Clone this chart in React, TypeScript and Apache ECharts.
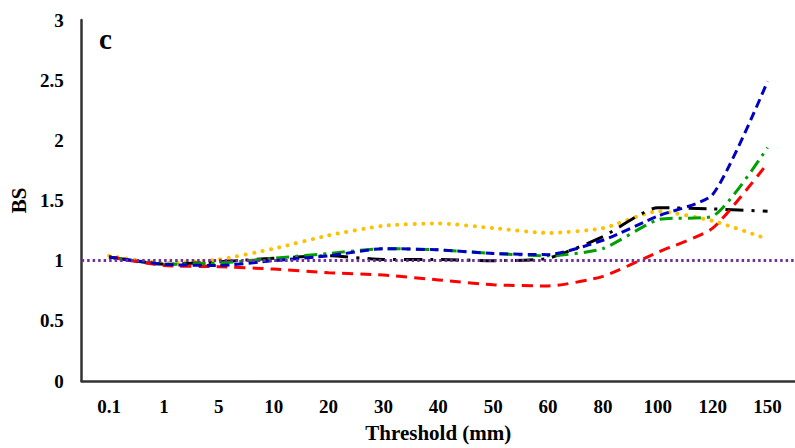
import React, { useEffect, useRef } from "react";
import * as echarts from "echarts";

const categories = ["0.1", "1", "5", "10", "20", "30", "40", "50", "60", "80", "100", "120", "150"];
const redSeries = [1.03, 0.96, 0.95, 0.93, 0.9, 0.88, 0.84, 0.8, 0.79, 0.87, 1.07, 1.27, 1.81];
const blueSeries = [1.03, 0.97, 0.96, 1.0, 1.04, 1.1, 1.09, 1.06, 1.05, 1.17, 1.37, 1.55, 2.49];
const greenSeries = [1.03, 0.97, 0.98, 1.02, 1.06, 1.1, 1.09, 1.06, 1.04, 1.1, 1.34, 1.37, 1.94];
const blackSeries = [1.03, 0.97, 0.99, 1.02, 1.04, 1.01, 1.01, 1.0, 1.02, 1.2, 1.44, 1.43, 1.41];
const yellowSeries = [1.04, 0.98, 1.01, 1.1, 1.21, 1.29, 1.31, 1.27, 1.23, 1.27, 1.41, 1.33, 1.18];
const referenceValue = 1;

const FONT = "'Liberation Serif', 'Times New Roman', serif";

export default function App() {
  const ref = useRef<HTMLDivElement>(null);
  useEffect(() => {
    if (!ref.current) return;
    const chart = echarts.init(ref.current, null, { renderer: "svg" });
    const mk = (name: string, data: number[], color: string, dash: number[], width = 3, cap: string = "butt") => ({
      name,
      type: "line",
      data,
      smooth: 0.2,
      symbol: "none",
      z: 3,
      lineStyle: { color, width, type: dash, cap },
    });
    chart.setOption({
      animation: false,
      graphic: [
        {
          type: "text",
          left: 99,
          top: 24,
          style: { text: "c", font: `bold 29px ${FONT}`, fill: "#000" },
        },
      ],
      grid: { left: 78, top: 20, right: 0, bottom: 64 },
      xAxis: {
        type: "category",
        data: categories,
        boundaryGap: true,
        name: "Threshold (mm)",
        nameLocation: "middle",
        nameGap: 41,
        nameTextStyle: { fontFamily: FONT, fontWeight: "bold", fontSize: 21, color: "#000" },
        axisLine: { lineStyle: { color: "#333", width: 2.5 } },
        axisTick: { show: false },
        axisLabel: { fontFamily: FONT, fontWeight: "bold", fontSize: 19, color: "#000", margin: 16, interval: 0 },
        splitLine: { show: false },
      },
      yAxis: {
        type: "value",
        min: 0,
        max: 3,
        interval: 0.5,
        name: "BS",
        nameLocation: "middle",
        nameGap: 50,
        nameRotate: 90,
        nameTextStyle: { fontFamily: FONT, fontWeight: "bold", fontSize: 21, color: "#000" },
        axisLine: { show: true, lineStyle: { color: "#333", width: 2.5 } },
        axisTick: { show: false },
        axisLabel: { fontFamily: FONT, fontWeight: "bold", fontSize: 19, color: "#000", margin: 18 },
        splitLine: { show: false },
      },
      series: [
        {
          name: "ref",
          type: "line",
          data: [],
          markLine: {
            silent: true,
            symbol: "none",
            label: { show: false },
            lineStyle: { color: "#7030a0", width: 3, type: [2.5, 3] },
            data: [{ yAxis: referenceValue }],
          },
        },
        mk("yellow", yellowSeries, "#ffc000", [0.1, 8.5], 4, "round"),
        mk("black", blackSeries, "#000000", [18, 8, 3, 8]),
        mk("green", greenSeries, "#00a000", [13, 6, 3, 6]),
        mk("red", redSeries, "#ff0000", [11, 7]),
        mk("blue", blueSeries, "#0000c0", [9, 5]),
      ],
    });
    return () => chart.dispose();
  }, []);
  return <div ref={ref} style={{ width: 795, height: 448, position: "absolute", left: 0, top: 0, background: "#fff" }} />;
}
